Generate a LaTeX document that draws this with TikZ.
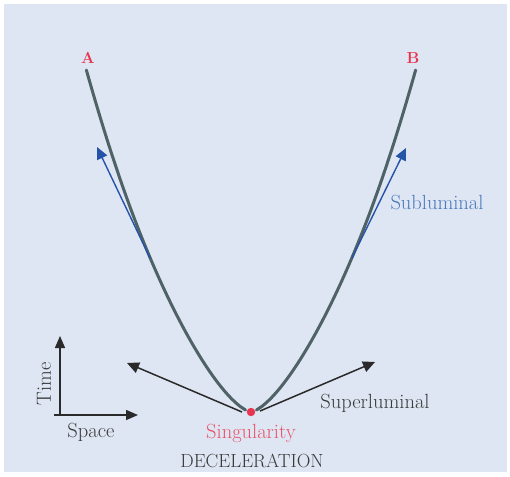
\documentclass[tikz,border=0pt]{standalone}
\usetikzlibrary{arrows.meta}
\definecolor{bgc}{HTML}{DEE6F3}
\definecolor{curvec}{HTML}{4F6367}
\definecolor{bluec}{HTML}{2553A8}
\definecolor{bluet}{HTML}{4A78BC}
\definecolor{redc}{HTML}{E8344E}
\definecolor{darkc}{HTML}{2A2A2A}
\definecolor{textc}{HTML}{3A3A3A}
\tikzset{
  worldline/.style={draw=curvec, line width=3pt, line cap=round},
  subarrow/.style={draw=bluec, line width=1.4pt, -{Triangle[length=12pt,width=11pt]}},
  superarrow/.style={draw=darkc, line width=1.5pt, -{Triangle[length=12pt,width=11pt]}},
  axisarrow/.style={draw=darkc, line width=1.5pt, -{Triangle[length=12pt,width=10pt]}},
  lbl/.style={font=\fontsize{20.5}{22}\selectfont, inner sep=0pt},
  ptlbl/.style={font=\fontsize{16}{18}\selectfont\bfseries, inner sep=0pt, text=redc},
}
\begin{document}
\begin{tikzpicture}[x=1pt,y=-1pt]
\useasboundingbox (0,0) rectangle (510,476);
\fill[white] (0,0) rectangle (510,476);
\fill[bgc] (4,4) rectangle (507,472);
% world lines
\draw[worldline] plot[domain=342:2, samples=90, variable=\t] ({251-3.4*pow(\t,0.665)-4*sin(0.5263*\t)}, {412-\t});
\draw[worldline] plot[domain=342:2, samples=90, variable=\t] ({251+3.4*pow(\t,0.665)+4*sin(0.5263*\t)}, {412-\t});
% nodes
\node[ptlbl] (A) at (88,58) {A};
\node[ptlbl] (B) at (413,58) {B};
\coordinate (s0) at (251,412);
\fill[redc] (s0) circle (4.2);
\node[lbl, text=redc!85!white] (sing) at (251,433) {Singularity};
\node[lbl, text=textc, font=\fontsize{19}{21}\selectfont] (dec) at (252,461) {DECELERATION};
\node[lbl, text=textc] (sup) at (375,403) {Superluminal};
\node[lbl, text=bluet] (sub) at (437,202) {Subluminal};
% blue arrows
\coordinate (bl0) at (150,258);
\coordinate (bl1) at (97,147);
\coordinate (br0) at (352,258);
\coordinate (br1) at (406,148);
\draw[subarrow] (bl0) -- (bl1);
\draw[subarrow] (br0) -- (br1);
% black arrows
\coordinate (kl0) at (242,412);
\coordinate (kl1) at (127,363);
\coordinate (kr0) at (260,411);
\coordinate (kr1) at (375,362);
\draw[superarrow] (kl0) -- (kl1);
\draw[superarrow] (kr0) -- (kr1);
% axes
\coordinate (o) at (60,415);
\coordinate (ot) at (60,336);
\coordinate (os) at (138,415);
\draw[axisarrow] ([yshift=1pt]o) -- (ot);
\draw[axisarrow] ([xshift=-6pt]o) -- (os);
\node[lbl, text=textc, rotate=90] (time) at (44,384) {Time};
\node[lbl, text=textc] (space) at (91,432) {Space};
\end{tikzpicture}
\end{document}
